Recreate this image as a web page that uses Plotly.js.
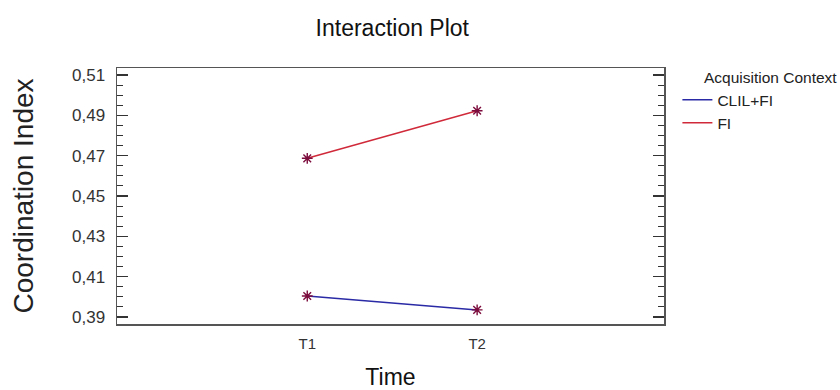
<!DOCTYPE html>
<html>
<head>
<meta charset="utf-8">
<script src="https://cdn.plot.ly/plotly-3.0.1.min.js"></script>
<style>html,body{margin:0;padding:0;background:#fff;}#chart{width:840px;height:390px;}</style>
</head>
<body>
<div id="chart"></div>
<script>
const timePoints = ["T1", "T2"];
const clilFiValues = [0.4004, 0.3935];
const fiValues = [0.4687, 0.4923];
const seriesNames = ["CLIL+FI", "FI"];
const legendTitle = "Acquisition Context";
const yTickVals = [0.39, 0.41, 0.43, 0.45, 0.47, 0.49, 0.51];
const yTickText = ["0,39", "0,41", "0,43", "0,45", "0,47", "0,49", "0,51"];

const fam = "Liberation Sans, Arial, sans-serif";
const lineColors = ["#2a2aa6", "#d02a3a"];
const markerColor = "#7c0c3c";

const seriesValues = [clilFiValues, fiValues];
const traces = [];
seriesValues.forEach((vals, i) => {
  traces.push({x: timePoints, y: vals, name: seriesNames[i], type: "scatter", mode: "lines",
    legendgroup: "g" + i, line: {color: lineColors[i], width: 1.5}});
});
seriesValues.forEach((vals, i) => {
  traces.push({x: timePoints, y: vals, name: seriesNames[i], type: "scatter", mode: "markers",
    legendgroup: "g" + i, showlegend: false,
    marker: {symbol: "asterisk-open", size: 9, color: markerColor, line: {color: markerColor, width: 1.4}}});
});

const layout = {
  width: 840, height: 390,
  margin: {l: 117, r: 176, t: 68, b: 66},
  paper_bgcolor: "#fff", plot_bgcolor: "#fff",
  font: {family: fam, color: "#222", size: 15},
  title: {text: "Interaction Plot", x: 0.467, xanchor: "center", y: 0.928, yanchor: "middle",
          font: {family: fam, size: 23, color: "#111"}},
  xaxis: {
    type: "category", range: [-1.12, 2.1], showgrid: false, zeroline: false,
    showline: true, linecolor: "#555", linewidth: 1.5, mirror: true, ticks: "",
    ticklabelstandoff: 5,
    tickfont: {family: fam, size: 15, color: "#333"},
    title: {text: "Time", font: {family: fam, size: 23, color: "#111"}, standoff: 18}
  },
  yaxis: {
    range: [0.3865, 0.5135], showgrid: false, zeroline: false,
    showline: true, linecolor: "#555", linewidth: 1.5, mirror: "allticks",
    tickvals: yTickVals, ticktext: yTickText,
    ticks: "inside", ticklen: 11, tickcolor: "#333", tickwidth: 1.3,
    minor: {dtick: 0.005, tick0: 0.39, ticks: "inside", ticklen: 6, tickcolor: "#333", tickwidth: 1.1},
    ticklabelstandoff: 7,
    tickfont: {family: fam, size: 17, color: "#333"},
    title: {text: "Coordination Index", font: {family: fam, size: 28, color: "#222"}, standoff: 30}
  },
  showlegend: true,
  legend: {
    x: 1.0245, y: 0.941, xanchor: "left", yanchor: "top",
    font: {family: fam, size: 15.5, color: "#222"},
    itemwidth: 30, tracegroupgap: 0, traceorder: "grouped", bgcolor: "rgba(0,0,0,0)"
  },
  annotations: [{
    text: legendTitle, xref: "paper", yref: "paper", x: 1.07, y: 0.962,
    xanchor: "left", yanchor: "middle", showarrow: false,
    font: {family: fam, size: 15.5, color: "#222"}
  }]
};

Plotly.newPlot("chart", traces, layout, {displayModeBar: false, staticPlot: true});
</script>
</body>
</html>
